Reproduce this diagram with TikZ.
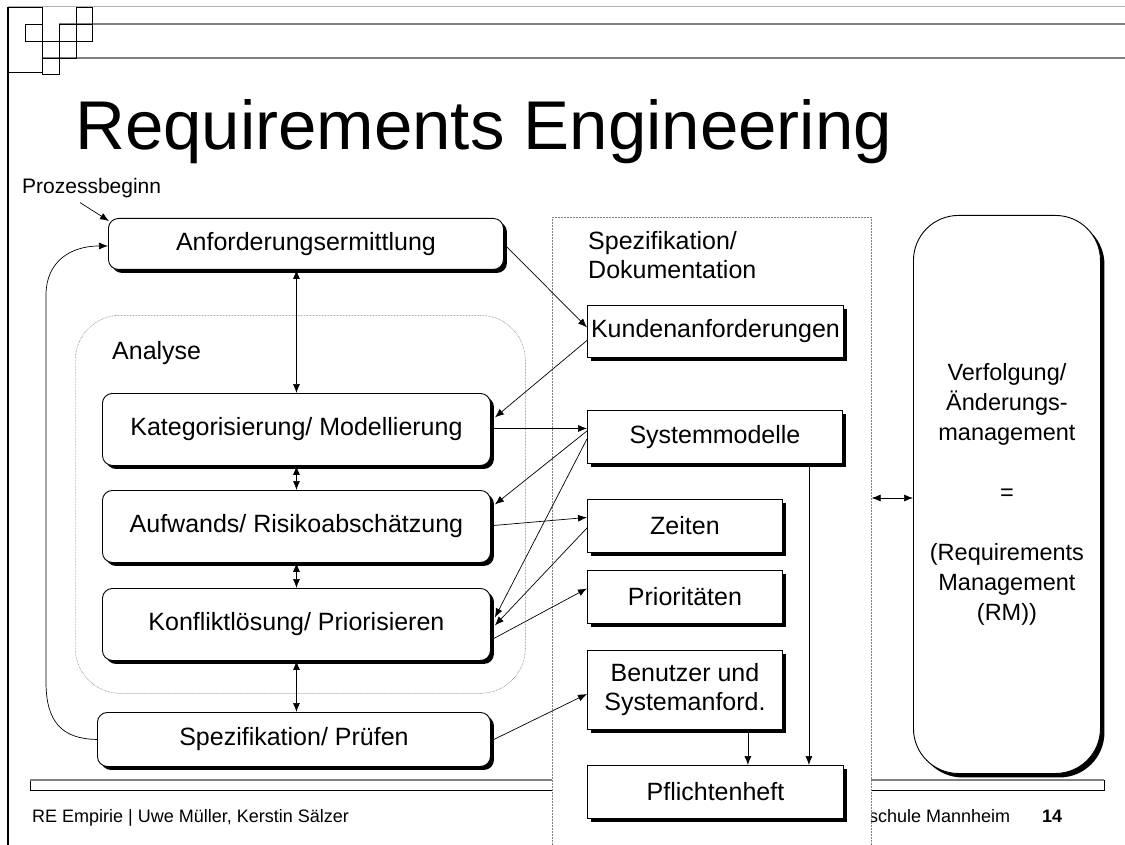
\documentclass[tikz,border=0pt]{standalone}
\usepackage{fontspec}
\setmainfont{Liberation Sans}
\usetikzlibrary{arrows.meta,shadows,calc}
\begin{document}
\begin{tikzpicture}[x=1pt,y=-1pt,
  body/.style={font=\fontsize{25}{29}\selectfont},
  rbox/.style={draw, fill=white, line width=0.9pt, rounded corners=10pt, inner sep=0pt, anchor=north west, body,
    drop shadow={shadow xshift=3.5pt, shadow yshift=-3.5pt, fill=black, opacity=1}},
  sbox/.style={draw, fill=white, line width=0.9pt, inner sep=0pt, anchor=north west, body, align=center,
    drop shadow={shadow xshift=4pt, shadow yshift=-4pt, fill=black, opacity=1}},
  rmbox/.style={draw, fill=white, line width=0.9pt, rounded corners=45pt, inner sep=0pt, anchor=north west,
    font=\fontsize{23.5}{30}\selectfont, align=center,
    drop shadow={shadow xshift=4pt, shadow yshift=-4pt, fill=black, opacity=1}},
  dotbox/.style={draw=gray, line width=0.6pt, dash pattern=on 0.6pt off 0.9pt, inner sep=0pt, anchor=north west},
  arr/.style={-{Latex[length=9pt,width=7pt]}, line width=0.7pt},
  darr/.style={{Latex[length=9pt,width=7pt]}-{Latex[length=9pt,width=7pt]}, line width=0.7pt},
  logo/.style={draw, line width=0.8pt},
  foottxt/.style={anchor=base west, inner sep=0pt, font=\fontsize{18}{20}\selectfont}
]
\useasboundingbox[fill=white] (0,0) rectangle (1125,845);

% header lines and logo
\draw[gray!60, line width=1pt] (8,7) -- (1125,7);
\draw[gray, line width=1.5pt] (59,24) -- (1125,24);
\draw[gray, line width=1.5pt] (42,58) -- (1125,58);
\draw[line width=1.2pt] (8,7) -- (8,845);
\draw[logo] (8,7) rectangle (42,72);
\draw[logo] (25,24) rectangle (42,41);
\draw[logo] (42,41) rectangle (59,58);
\draw[logo] (42,58) rectangle (59,74);
\draw[logo] (59,24) rectangle (76,41);
\draw[logo] (59,41) rectangle (76,58);
\draw[logo] (76,7) rectangle (92,24);
\draw[logo] (76,24) rectangle (92,41);

% title
\node[anchor=base west, inner sep=0pt, font=\fontsize{69}{70}\selectfont] (title) at (75,150) {Requirements Engineering};

% footer
\draw[line width=0.8pt] (30,780) rectangle (1104,790);
\draw[gray, line width=2pt] (30,780) -- (1104,780);
\node[foottxt] (foot) at (32,822) {RE Empirie | Uwe Müller, Kerstin Sälzer};
\node[foottxt] (hs) at (869,822) {schule Mannheim};
\node[foottxt, font=\fontsize{18}{20}\selectfont\bfseries] (pg) at (1042,822) {14};

% containers
\node[dotbox, fill=white, minimum width=319pt, minimum height=640pt] (sc) at (552,217) {};
\node[dotbox, rounded corners=45pt, minimum width=450pt, minimum height=378pt] (ana) at (75,315) {};
\node[anchor=west, inner sep=0pt, body, align=left] (sctxt) at (588,255.5) {Spezifikation/\\Dokumentation};
\node[anchor=base west, inner sep=0pt, body] (anatxt) at (112,359) {Analyse};
\node[anchor=base west, inner sep=0pt, font=\fontsize{21}{24}\selectfont] (pb) at (22,194) {Prozessbeginn};

% left boxes
\node[rbox, minimum width=395pt, minimum height=51pt] (anf) at (108,218) {Anforderungsermittlung};
\node[rbox, minimum width=388pt, minimum height=72pt] (kat) at (102,393) {Kategorisierung/ Modellierung};
\node[rbox, minimum width=388pt, minimum height=72pt] (auf) at (102,490) {Aufwands/ Risikoabschätzung};
\node[rbox, minimum width=388pt, minimum height=72pt] (kon) at (102,588) {Konfliktlösung/ Priorisieren};
\node[rbox, minimum width=393pt, minimum height=54pt] (spz) at (97,712) {Spezifikation/ Prüfen};

% middle boxes
\node[sbox, minimum width=256pt, minimum height=52pt] (kund) at (587,305) {Kundenanforderungen};
\node[sbox, minimum width=255pt, minimum height=53pt] (sys) at (587,410) {Systemmodelle};
\node[sbox, minimum width=195pt, minimum height=53pt] (zeit) at (587,499) {Zeiten};
\node[sbox, minimum width=195pt, minimum height=53pt] (prio) at (587,570) {Prioritäten};
\node[sbox, minimum width=195pt, minimum height=79pt] (benu) at (587,650) {Benutzer und\\Systemanford.};
\node[sbox, minimum width=256pt, minimum height=53pt] (pf) at (587,765) {Pflichtenheft};

% right box
\node[rmbox, minimum width=187pt, minimum height=558pt] (rm) at (913,215)
  {Verfolgung/\\Änderungs-\\management\\[30pt]=\\[30pt](Requirements\\Management\\(RM))};

% connectors
\draw[arr] ($(pb.south west)+(58,4)$) -- ($(anf.north west)+(1,3)$);
\draw[arr] (spz.west) .. controls (62,739) and (46,722) .. (46,682) -- (46,295)
  .. controls (46,262) and (70,246) .. ($(anf.west)+(0,2)$);
\draw[darr] (kat.north |- anf.south) -- (kat.north);
\draw[darr] (kat.south) -- (auf.north);
\draw[darr] (auf.south) -- (kon.north);
\draw[darr] (kon.south) -- (kon.south |- spz.north);

\draw[arr] ($(anf.east)+(2,2)$) -- ($(kund.west)+(0,-4)$);
\draw[arr] ($(kund.west)+(0,9)$) -- ($(kat.east)+(4,-12)$);
\draw[arr] ($(kat.east)+(3,-1)$) -- ($(sys.west)+(0,-8.5)$);
\draw[arr] ($(sys.west)+(0,-6)$) -- ($(auf.east)+(4,-22)$);
\draw[arr] ($(sys.west)+(0,2)$) -- ($(kon.east)+(4,-7)$);
\draw[arr] ($(auf.east)+(3,-1)$) -- ($(zeit.west)+(0,-8.5)$);
\draw[arr] ($(zeit.west)+(0,2)$) -- ($(kon.east)+(4,1)$);
\draw[arr] ($(kon.east)+(3,14)$) -- ($(prio.west)+(0,-8.5)$);
\draw[arr] ($(spz.east)+(3,0)$) -- ($(benu.west)+(0,4)$);
\draw[arr] ($(sys.south east)+(-34,0)$) coordinate (s1) -- (s1 |- pf.north);
\draw[arr] ($(benu.south east)+(-35,0)$) coordinate (b1) -- (b1 |- pf.north);
\draw[darr] (sc.east |- 0,498) coordinate (c1) -- (c1 -| rm.west);
\end{tikzpicture}
\end{document}
